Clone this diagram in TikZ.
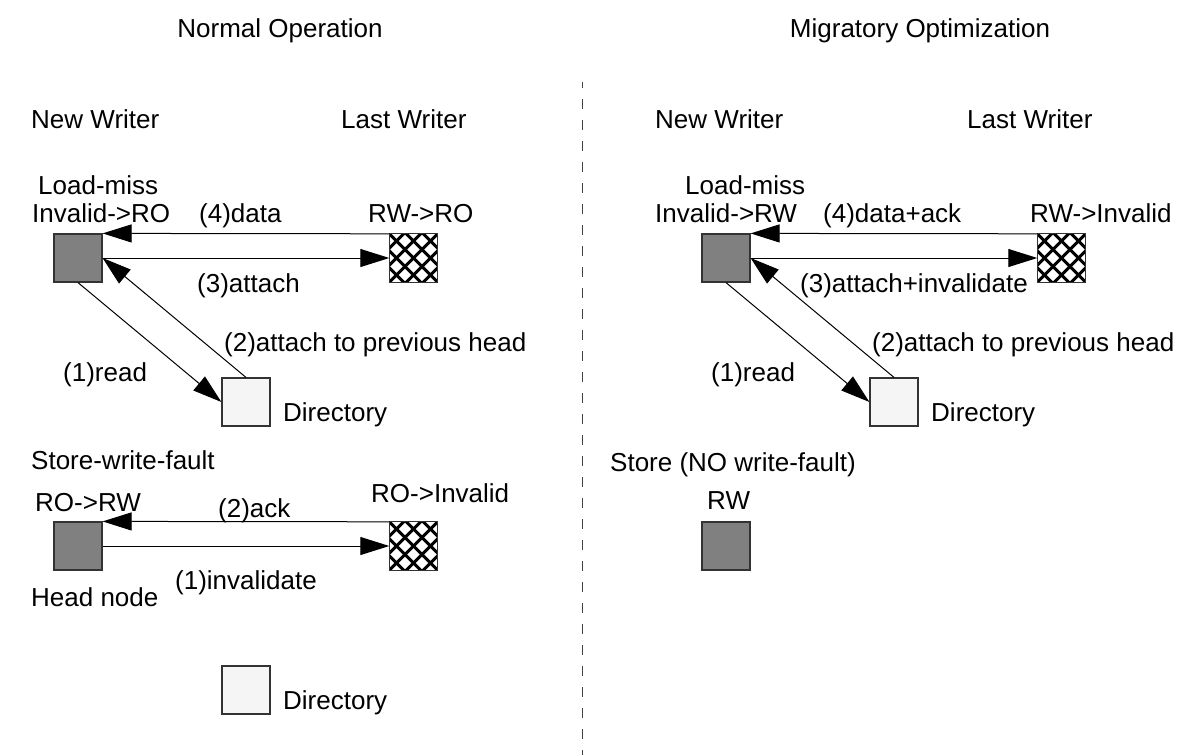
\documentclass[tikz,border=0pt]{standalone}
\usepackage{fontspec}
\setmainfont{Liberation Sans}
\usetikzlibrary{arrows.meta,calc}
\newcommand{\hatchbox}[1]{%
  \begin{scope}
    \clip (#1.south west) rectangle (#1.north east);
    \foreach \k in {-68,-51,...,68}{
      \draw[hl] ($(#1.center)+(\k-40,-40)$) -- ++(80,80);
      \draw[hl] ($(#1.center)+(\k-40,40)$) -- ++(80,-80);
    }
  \end{scope}
  \draw[boxline] (#1.south west) rectangle (#1.north east);
}
\begin{document}
\begin{tikzpicture}[x=1pt,y=-1pt,
  lbl/.style={font=\fontsize{26}{30}\selectfont, inner sep=0pt, anchor=base west},
  ttl/.style={lbl, anchor=base},
  box/.style={minimum size=48pt, inner sep=0pt, draw=black!80, line width=1.2pt},
  boxline/.style={draw=black!80, line width=1.2pt},
  grayb/.style={box, fill=black!50},
  dirb/.style={box, fill=black!4},
  hatchb/.style={minimum size=48pt, inner sep=0pt},
  arr/.style={line width=1pt, -{Triangle[length=29pt,width=18pt]}},
  hl/.style={line width=3pt, draw=black},
  sep/.style={line width=1.6pt, draw=black!75, dash pattern=on 10pt off 11pt, dash phase=4pt}]
\useasboundingbox (0,0) rectangle (1185,755);
\fill[white] (0,0) rectangle (1185,755);

% separator
\coordinate (septop) at (582.5,82);
\coordinate (sepbot) at (582.5,755);
\draw[sep] (septop) -- (sepbot);

% ---------------- left panel ----------------
\node[ttl] (t1) at (280,37) {Normal Operation};
\node[lbl] (nwl) at (31,128) {New Writer};
\node[lbl] (lwl) at (341,128) {Last Writer};

\node[grayb] (nw1) at (78,258) {};
\node[hatchb] (lw1) at (413.5,258) {};
\hatchbox{lw1}
\node[dirb] (dir1) at (246,402) {};

\node[lbl] (l1) at (38,194) {Load-miss};
\node[lbl] (l2) at (32,222) {Invalid->RO};
\node[lbl] (l3) at (199,222) {(4)data};
\node[lbl] (l4) at (368,222) {RW->RO};
\node[lbl] (l5) at (197,292) {(3)attach};
\node[lbl] (l6) at (224,351) {(2)attach to previous head};
\node[lbl] (l7) at (63,381) {(1)read};
\node[lbl] (l8) at (283,421) {Directory};

\draw[arr] (lw1.north west) -- (nw1.north east);
\draw[arr] (nw1.east) -- (lw1.west);
\draw[arr] (nw1.south) -- (dir1.west);
\draw[arr] (dir1.north) -- (nw1.east);

\node[lbl] (s1) at (31,469) {Store-write-fault};
\node[lbl] (s2) at (35,511) {RO->RW};
\node[lbl] (s3) at (218,517) {(2)ack};
\node[lbl] (s4) at (371,502) {RO->Invalid};
\node[lbl] (s5) at (175,589) {(1)invalidate};
\node[lbl] (s6) at (31,606) {Head node};

\node[grayb] (nw2) at (78,546) {};
\node[hatchb] (lw2) at (413.5,546) {};
\hatchbox{lw2}
\draw[arr] (lw2.north west) -- (nw2.north east);
\draw[arr] (nw2.east) -- (lw2.west);

\node[dirb] (dir2) at (246,690) {};
\node[lbl] (s7) at (283,709) {Directory};

% ---------------- right panel ----------------
\node[ttl] (t2) at (920,37) {Migratory Optimization};
\node[lbl] (nwr) at (655,128) {New Writer};
\node[lbl] (lwr) at (967,128) {Last Writer};

\node[grayb] (nw3) at (726,258) {};
\node[hatchb] (lw3) at (1061.5,258) {};
\hatchbox{lw3}
\node[dirb] (dir3) at (894,402) {};

\node[lbl] (r1) at (685,194) {Load-miss};
\node[lbl] (r2) at (655,222) {Invalid->RW};
\node[lbl] (r3) at (823,222) {(4)data+ack};
\node[lbl] (r4) at (1030,222) {RW->Invalid};
\node[lbl] (r5) at (800,292) {(3)attach+invalidate};
\node[lbl] (r6) at (872,351) {(2)attach to previous head};
\node[lbl] (r7) at (711,381) {(1)read};
\node[lbl] (r8) at (931,421) {Directory};

\draw[arr] (lw3.north west) -- (nw3.north east);
\draw[arr] (nw3.east) -- (lw3.west);
\draw[arr] (nw3.south) -- (dir3.west);
\draw[arr] (dir3.north) -- (nw3.east);

\node[lbl] (r9) at (610,471) {Store (NO write-fault)};
\node[lbl] (r10) at (707,509) {RW};
\node[grayb] (nw4) at (726,546) {};
\end{tikzpicture}
\end{document}
